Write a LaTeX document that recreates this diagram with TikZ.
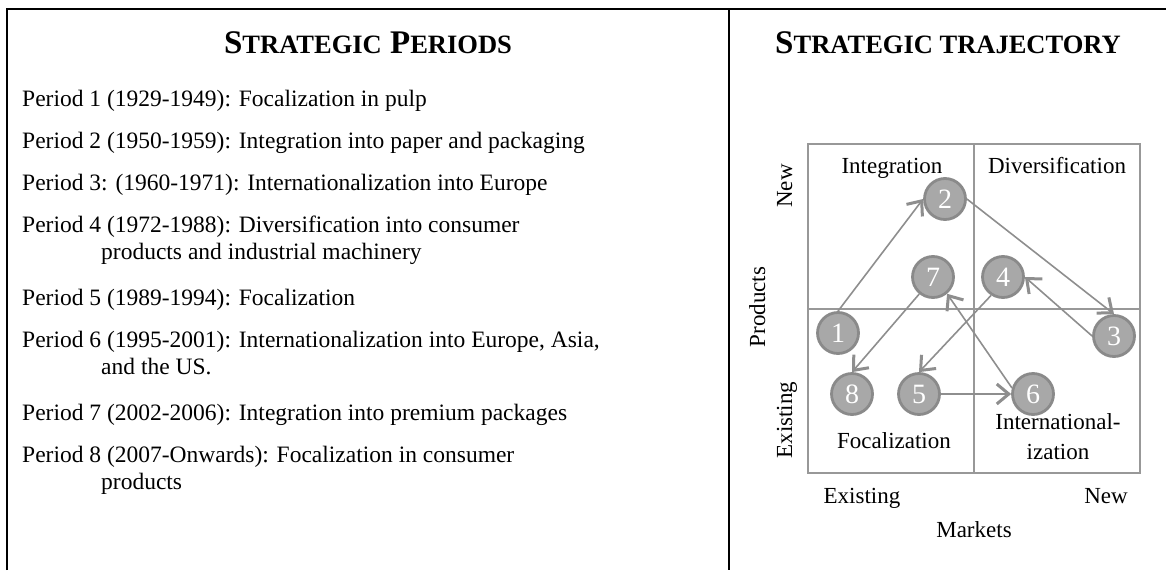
\documentclass[tikz,border=0pt]{standalone}
\usepackage{fontspec}
\setmainfont{Liberation Serif}
\usetikzlibrary{arrows.meta}
\definecolor{gridgray}{RGB}{152,152,152}
\definecolor{dotfill}{RGB}{168,168,168}
\definecolor{dotedge}{RGB}{138,138,138}
\definecolor{trendgray}{RGB}{142,142,142}
\newcommand{\lowcaps}{\fontsize{26.5}{26.5}\selectfont}

\begin{document}
\begin{tikzpicture}[
    x=1pt, y=-1pt,
    frame/.style={draw=black, line width=2pt},
    heading/.style={font=\bfseries\fontsize{33}{33}\selectfont, inner sep=0pt, anchor=base},
    period/.style={font=\fontsize{23.5}{28}\selectfont, inner sep=0pt, anchor=base west},
    quad/.style={draw=gridgray, line width=2.8pt},
    quadlabel/.style={font=\fontsize{23}{30}\selectfont, inner sep=0pt, anchor=base, align=center},
    dot/.style={circle, fill=dotfill, draw=dotedge, line width=2.8pt, minimum size=41pt,
        inner sep=0pt, text=white, font=\fontsize{28}{28}\selectfont},
    trend/.style={draw=trendgray, line width=1.6pt,
        -{Straight Barb[length=12pt, width=20pt, line width=3pt]}},
]
    \useasboundingbox (0, 0) rectangle (1166, 570);

    %% the table frame, open at the right and at the bottom
    \draw[frame] (7, 570) -- (7, 8.5) -- (1166, 8.5);
    \draw[frame] (729, 8.5) -- (729, 570);

    %% the two headings, in small capitals
    \node[heading] (hperiods) at (368, 53)
        {S{\lowcaps TRATEGIC} P{\lowcaps ERIODS}};
    \node[heading] (htraj) at (948, 53)
        {S{\lowcaps TRATEGIC TRAJECTORY}};

    %% the periods, one line each, the long ones run on indented
    \foreach \name/\x/\y/\txt in {
            p1/22/106/{Period 1 (1929-1949): Focalization in pulp},
            p2/22/148/{Period 2 (1950-1959): Integration into paper and packaging},
            p3/22/190/{Period 3: (1960-1971): Internationalization into Europe},
            p4/22/232/{Period 4 (1972-1988): Diversification into consumer},
            p4b/101/259/{products and industrial machinery},
            p5/22/305/{Period 5 (1989-1994): Focalization},
            p6/22/347/{Period 6 (1995-2001): Internationalization into Europe, Asia,},
            p6b/101/374/{and the US.},
            p7/22/420/{Period 7 (2002-2006): Integration into premium packages},
            p8/22/462/{Period 8 (2007-Onwards): Focalization in consumer},
            p8b/101/489/{products}}
        \node[period] (\name) at (\x, \y) {\txt};

    %% the product/market matrix
    \draw[quad] (808, 144) rectangle (1140, 473);
    \draw[quad] (974, 144) -- (974, 473);
    \draw[quad] (808, 309) -- (1140, 309);
    \node[quadlabel] (qint) at (892, 173) {Integration};
    \node[quadlabel] (qdiv) at (1057, 173) {Diversification};
    \node[quadlabel] (qfoc) at (894, 448) {Focalization};
    \node[quadlabel] (qintl) at (1058, 459) {International-\\ization};

    %% the axes
    \node[quadlabel, rotate=90] (ynew) at (792, 186) {New};
    \node[quadlabel, rotate=90] (yold) at (792, 420) {Existing};
    \node[quadlabel, rotate=90] (yname) at (765, 307) {Products};
    \node[quadlabel] (xold) at (862, 503) {Existing};
    \node[quadlabel] (xnew) at (1106, 503) {New};
    \node[quadlabel] (xname) at (974, 537) {Markets};

    %% the eight periods on the matrix
    \foreach \i/\x/\y in {1/838/333, 2/945/199, 3/1114/336, 4/1003/277,
            5/919/394, 6/1033/394, 7/933/277, 8/852/394}
        \node[dot] (c\i) at (\x, \y) {\i};

    %% the trajectory from one period to the next
    \draw[trend] (c1.north) -- (c2.west);
    \draw[trend] (c2.east) -- (c3.north);
    \draw[trend] (c3.west) -- (c4.east);
    \draw[trend] (c4.237) -- (c5.north);
    \draw[trend] (c5.east) -- (c6.west);
    \draw[trend] (c6.164) -- (c7.310);
    \draw[trend] (c7.231) -- (c8.north);
\end{tikzpicture}
\end{document}
